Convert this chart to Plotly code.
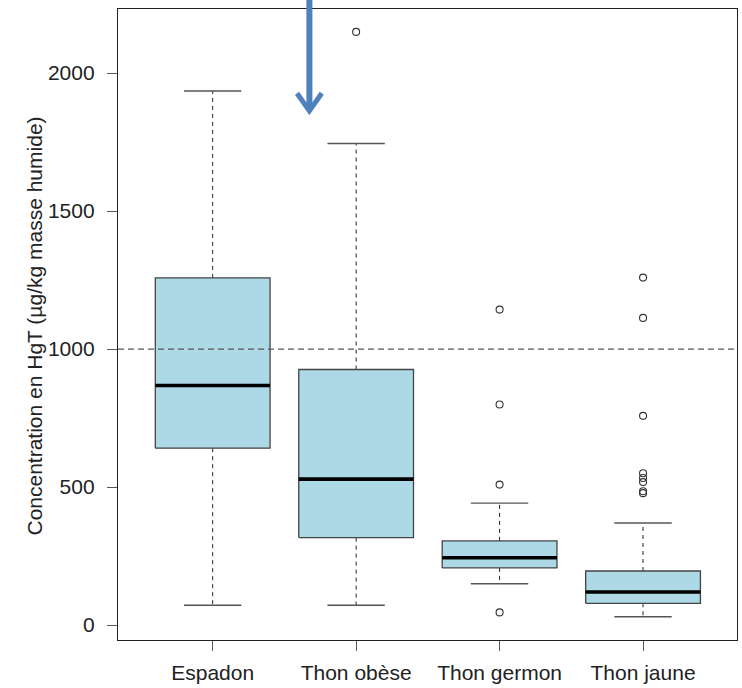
import plotly.graph_objects as go

# ---- data ----
categories = ["Espadon", "Thon obèse", "Thon germon", "Thon jaune"]
lower_whisker = [72, 72, 150, 30]
q1 = [641, 317, 207, 79]
median = [868, 529, 244, 120]
q3 = [1258, 926, 305, 196]
upper_whisker = [1935, 1745, 442, 370]
outliers_espadon = []
outliers_thon_obese = [2149]
outliers_thon_germon = [1143, 799, 509, 46]
outliers_thon_jaune = [1259, 1113, 758, 550, 533, 518, 485, 478]
outliers = [outliers_espadon, outliers_thon_obese, outliers_thon_germon, outliers_thon_jaune]
y_ticks = [0, 500, 1000, 1500, 2000]
threshold = 1000

FONT = "Liberation Sans, Arial, sans-serif"
BOX_HALF = 0.4
CAP_HALF = 0.2

fig = go.Figure()
positions = list(range(1, len(categories) + 1))

for i, p in enumerate(positions):
    # dashed whiskers
    fig.add_trace(go.Scatter(
        x=[p, p, None, p, p], y=[q3[i], upper_whisker[i], None, q1[i], lower_whisker[i]],
        mode="lines", line=dict(color="#222222", width=1, dash="4px,4px"),
        hoverinfo="skip", showlegend=False))
    # caps
    fig.add_trace(go.Scatter(
        x=[p - CAP_HALF, p + CAP_HALF, None, p - CAP_HALF, p + CAP_HALF],
        y=[upper_whisker[i], upper_whisker[i], None, lower_whisker[i], lower_whisker[i]],
        mode="lines", line=dict(color="#555555", width=1.4),
        hoverinfo="skip", showlegend=False))
    # box
    fig.add_trace(go.Scatter(
        x=[p - BOX_HALF, p + BOX_HALF, p + BOX_HALF, p - BOX_HALF, p - BOX_HALF],
        y=[q1[i], q1[i], q3[i], q3[i], q1[i]],
        mode="lines", fill="toself", fillcolor="#ADD8E6",
        line=dict(color="#444444", width=1.3),
        hoverinfo="skip", showlegend=False))
    # median
    fig.add_trace(go.Scatter(
        x=[p - BOX_HALF, p + BOX_HALF], y=[median[i], median[i]],
        mode="lines", line=dict(color="#000000", width=3.6),
        hoverinfo="skip", showlegend=False))
    # outliers
    if outliers[i]:
        fig.add_trace(go.Scatter(
            x=[p] * len(outliers[i]), y=outliers[i], mode="markers",
            marker=dict(symbol="circle-open", size=7, color="#333333",
                        line=dict(width=1.1, color="#333333")),
            hoverinfo="skip", showlegend=False))

# horizontal dashed reference line at 1000
fig.add_shape(type="line", xref="paper", x0=0, x1=1, yref="y", y0=threshold, y1=threshold,
              line=dict(color="#555555", width=1.2, dash="6px,4px"), layer="above")

# blue arrow (annotation, in paper coordinates)
ARROW = "#4F81BD"
fig.add_shape(type="line", xref="paper", yref="paper",
              x0=0.3092, x1=0.3092, y0=1.02, y1=0.842,
              line=dict(color=ARROW, width=6), layer="above")
fig.add_shape(type="path", xref="paper", yref="paper",
              path="M 0.2892 0.8665 L 0.3092 0.8385 L 0.3292 0.8665",
              line=dict(color=ARROW, width=5), layer="above")

fig.update_layout(
    width=742, height=688,
    margin=dict(l=118, r=4, t=9, b=45),
    paper_bgcolor="white", plot_bgcolor="white",
    font=dict(family=FONT, size=21, color="#222222"),
    showlegend=False,
    xaxis=dict(
        range=[0.34, 4.655], tickvals=positions, ticktext=categories,
        showgrid=False, zeroline=False,
        showline=True, mirror=True, linecolor="#222222", linewidth=1.3,
        ticks="outside", ticklen=10, tickcolor="#555555", tickwidth=1.3,
        tickfont=dict(family=FONT, size=21, color="#222222"),
        ticklabelstandoff=4,
    ),
    yaxis=dict(
        range=[-54, 2232], tickvals=y_ticks, ticktext=[str(v) for v in y_ticks],
        showgrid=False, zeroline=False,
        showline=True, mirror=True, linecolor="#222222", linewidth=1.3,
        ticks="outside", ticklen=10, tickcolor="#555555", tickwidth=1.3,
        tickfont=dict(family=FONT, size=21, color="#222222"),
        ticklabelstandoff=8,
    ),
    annotations=[dict(
        text="Concentration en HgT (µg/kg masse humide)",
        xref="paper", yref="paper", x=(34 - 118) / 620, y=0.497,
        xanchor="center", yanchor="middle", textangle=-90, showarrow=False,
        font=dict(family=FONT, size=21, color="#222222"),
    )],
)

fig.write_html("out.html")
